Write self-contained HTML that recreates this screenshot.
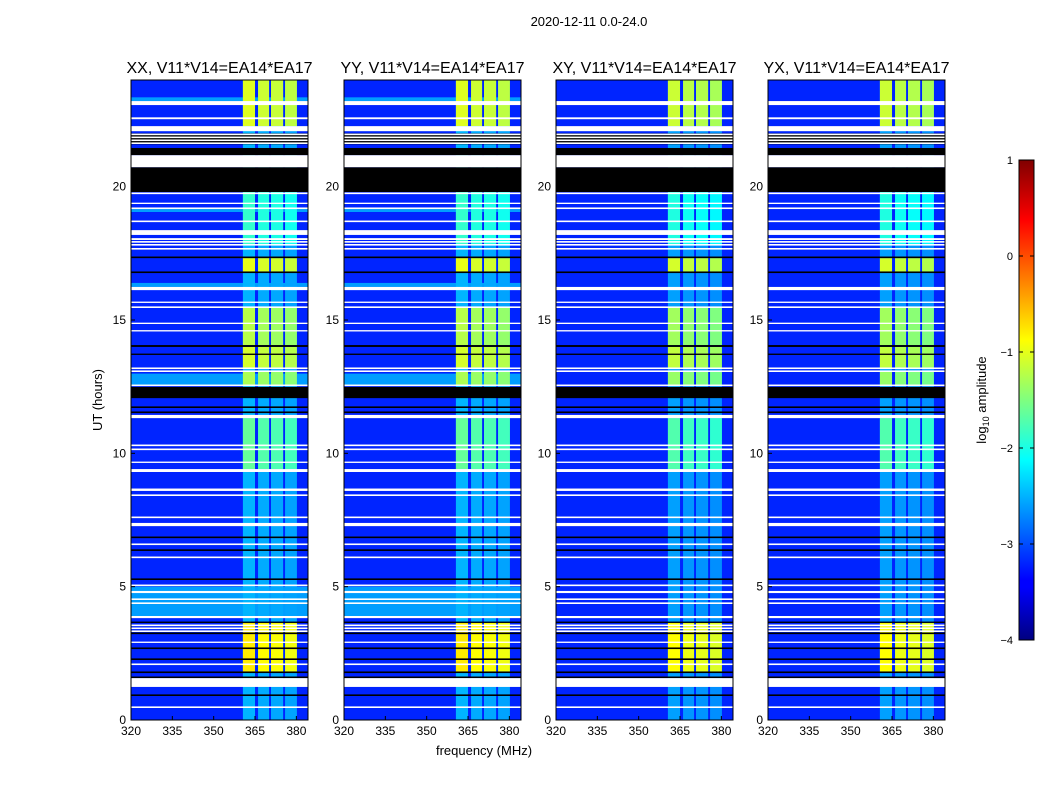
<!DOCTYPE html>
<html><head><meta charset="utf-8"><style>
body{margin:0;background:#fff;font-family:"Liberation Sans",sans-serif}
svg text{font-family:"Liberation Sans",sans-serif}
</style></head><body>
<svg id="fig" width="1050" height="800" xmlns="http://www.w3.org/2000/svg">
<text x="589" y="26" font-size="13" text-anchor="middle">2020-12-11 0.0-24.0</text>
<text x="102" y="400" font-size="13" text-anchor="middle" transform="rotate(-90 102 400)">UT (hours)</text>
<text x="484" y="755" font-size="13" text-anchor="middle">frequency (MHz)</text>
<text x="986" y="400" font-size="13" text-anchor="middle" transform="rotate(-90 986 400)">log<tspan font-size="9" dy="3">10</tspan><tspan dy="-3"> amplitude</tspan></text>
<defs><linearGradient id="jetg" x1="0" y1="1" x2="0" y2="0">
<stop offset="0" stop-color="#000080"/><stop offset="0.11" stop-color="#0000ff"/><stop offset="0.125" stop-color="#0000ff"/><stop offset="0.375" stop-color="#00ffff"/><stop offset="0.625" stop-color="#ffff00"/><stop offset="0.875" stop-color="#ff0000"/><stop offset="1" stop-color="#800000"/></linearGradient></defs>
<rect x="1019" y="160" width="15" height="480" fill="url(#jetg)" stroke="#000" stroke-width="1"/>
<g id="plots"></g>
</svg>
<script>
const panelTitles=["XX, V11*V14=EA14*EA17","YY, V11*V14=EA14*EA17","XY, V11*V14=EA14*EA17","YX, V11*V14=EA14*EA17"];
const panelLefts=[131,344,556,768];
const xTicks=[320,335,350,365,380];
const yTicks=[0,5,10,15,20];
const cbTicks=[1,0,-1,-2,-3,-4];
const bgLevel=-3.2;
const rfiDefault=-2.55;
const rfiBands=[[360.6,365.0],[366.1,370.1],[370.8,375.2],[375.9,380.2]];
const bandOffsets=[0.12,0.03,0,-0.05];
const rfiSegments=[[22.27,24,-1.15],[17.85,19.8,-2.0],[16.82,17.32,-1.1],[14.06,15.5,-1.35],[13.22,13.99,-1.2],[12.58,13.05,-1.4],[9.41,11.32,-1.75],[1.82,3.64,-0.9]];
const cyanRows=[[23.21,23.35],[19.05,19.16],[16.24,16.39],[12.58,12.99],[3.9,5.0]];
const cyanLevel=-2.6;
const cyanPanels=[true,true,false,false];
const panelOffsets=[0,0,-0.1,-0.1];
const blackRows=[[21.59,22.0],[21.18,21.45],[19.8,20.73],[17.32,17.38],[16.76,16.82],[13.99,14.06],[13.69,13.74],[12.07,12.49],[11.7,11.76],[11.51,11.57],[6.82,6.88],[6.34,6.4],[5.25,5.31],[3.64,3.69],[3.22,3.28],[2.66,2.72],[2.25,2.31],[1.76,1.82],[1.57,1.63],[0.9,0.96]];
const whiteRows=[[23.06,23.21],[22.53,22.6],[22.08,22.27],[21.93,21.99],[21.82,21.88],[21.71,21.77],[21.6,21.66],[20.73,21.18],[19.72,19.78],[19.35,19.4],[19.16,19.22],[18.67,18.73],[18.19,18.37],[18.0,18.07],[17.9,17.96],[17.79,17.85],[17.64,17.7],[16.12,16.24],[15.64,15.69],[15.45,15.51],[14.85,14.9],[14.57,14.62],[13.16,13.22],[13.05,13.11],[12.52,12.58],[11.32,11.44],[10.27,10.33],[10.12,10.18],[9.64,9.69],[9.3,9.41],[8.59,8.68],[8.4,8.46],[7.57,7.63],[7.27,7.39],[6.56,6.62],[6.07,6.13],[5.02,5.08],[4.76,4.84],[4.5,4.56],[4.35,4.41],[3.82,3.9],[3.52,3.58],[3.41,3.47],[3.3,3.36],[2.89,2.94],[2.06,2.12],[1.24,1.57],[0.45,0.51]];

const NS="http://www.w3.org/2000/svg";
const top0=80,bot0=720,pw=177,fmin=320,fmax=320+177/2.756;
function yS(h){return bot0-(h/24)*(bot0-top0);}
function xS(f,left){return left+(f-fmin)/(fmax-fmin)*pw;}
function cl(v){return Math.max(0,Math.min(1,v));}
function jet(v){const t=(v+4)/5;return `rgb(${Math.round(255*cl(Math.min(4*t-1.5,-4*t+4.5)))},${Math.round(255*cl(Math.min(4*t-0.5,-4*t+3.5)))},${Math.round(255*cl(Math.min(4*t+0.5,-4*t+2.5)))})`;}
function mk(tag,attrs,parent){const e=document.createElementNS(NS,tag);for(const k in attrs)e.setAttribute(k,attrs[k]);parent.appendChild(e);return e;}
const root=document.getElementById('plots');
function hrect(g,left,f0,f1,h0,h1,fill,name){
  const x0=xS(f0,left),x1=xS(f1,left),y0=yS(h1),y1=yS(h0);
  const r=mk('rect',{x:x0,y:y0,width:x1-x0,height:Math.max(0.8,y1-y0),fill:fill},g);
  
  
}
panelLefts.forEach((left,p)=>{
  const g=mk('g',{},root);
  
  
  hrect(g,left,fmin,fmax,0,24,jet(bgLevel),'background-cells');
  if(cyanPanels[p]) cyanRows.forEach(c=>hrect(g,left,fmin,fmax,c[0],c[1],jet(cyanLevel),'broadband-row'));
  rfiBands.forEach((b,bi)=>{
    hrect(g,left,b[0],b[1],0,24,jet(rfiDefault+bandOffsets[bi]*0.5+panelOffsets[p]),'rfi-band-cells');
    rfiSegments.forEach(s=>hrect(g,left,b[0],b[1],s[0],s[1],jet(s[2]+bandOffsets[bi]+panelOffsets[p]),'rfi-segment-cell'));
  });
  blackRows.forEach(r=>hrect(g,left,fmin,fmax,r[0],r[1],'#000','zero-row'));
  whiteRows.forEach(r=>hrect(g,left,fmin,fmax,r[0],r[1],'#fff','flagged-row'));
  const fr=mk('rect',{x:left,y:top0,width:pw,height:bot0-top0,fill:'none',stroke:'#000','stroke-width':1},g);
  
  
  const t=mk('text',{x:left+pw/2,y:73,'font-size':16,'text-anchor':'middle'},g);t.textContent=panelTitles[p];
  
  
  xTicks.forEach(v=>{const x=xS(v,left);
    mk('line',{x1:x,x2:x,y1:bot0,y2:bot0-4,stroke:'#000'},g);
    const tx=mk('text',{x:x,y:bot0+15,'font-size':12,'text-anchor':'middle'},g);tx.textContent=v;
    
    });
  yTicks.forEach(v=>{const y=yS(v);
    mk('line',{x1:left,x2:left+4,y1:y,y2:y,stroke:'#000'},g);
    const ty=mk('text',{x:left-5,y:y+4,'font-size':12,'text-anchor':'end'},g);ty.textContent=v;
    
    });
});
cbTicks.forEach(v=>{const y=160+(1-v)/5*480;
  mk('line',{x1:1019,x2:1023,y1:y,y2:y,stroke:'#000'},root);
  mk('line',{x1:1030,x2:1034,y1:y,y2:y,stroke:'#000'},root);
  const t=mk('text',{x:1013,y:y+4,'font-size':11,'text-anchor':'end'},root);t.textContent=(v<0?'\u2212'+(-v):v);
  
  });
</script>
</body></html>
